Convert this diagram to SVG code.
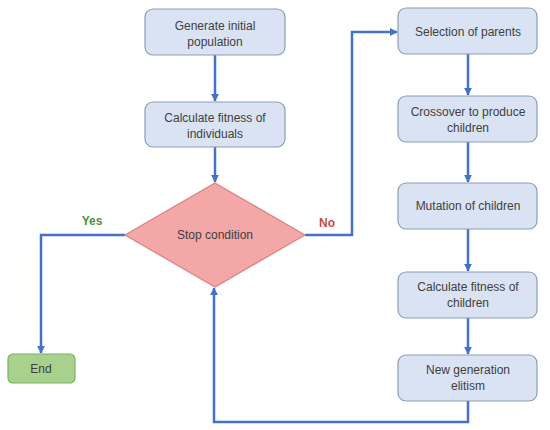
<svg xmlns="http://www.w3.org/2000/svg" width="550" height="430" viewBox="0 0 550 430">
<defs>
<marker id="ah" viewBox="0 0 10 10" refX="9" refY="5" markerWidth="3.2" markerHeight="3.2" orient="auto" markerUnits="strokeWidth">
<path d="M0,0 L10,5 L0,10 z" fill="#4472c4"/>
</marker>
</defs>
<style>
.box{fill:#dae3f3;stroke:#8c9db5;stroke-width:1.2}
.t{font-family:"Liberation Sans",Arial,sans-serif;font-size:12px;fill:#404040;text-anchor:middle}
.lbl{font-weight:bold}
.c{fill:none;stroke:#4472c4;stroke-width:2.5;marker-end:url(#ah)}
</style>
<rect width="550" height="430" fill="#ffffff"/>
<g id="connectors">
<path class="c" d="M215,55 L215,101"/>
<path class="c" d="M215,147 L215,182"/>
<path class="c" d="M125,235 L41,235 L41,353"/>
<path class="c" d="M305,235 L352,235 L352,32 L397,32"/>
<path class="c" d="M468,54 L468,95"/>
<path class="c" d="M468,142 L468,182"/>
<path class="c" d="M468,229 L468,271"/>
<path class="c" d="M468,318 L468,354"/>
<path class="c" d="M468,401 L468,422 L214,422 L214,288"/>
</g>
<g id="gen">
<rect class="box" x="145" y="9" width="140" height="46" rx="8"/>
<text class="t" x="215" y="30">Generate initial</text>
<text class="t" x="215" y="46">population</text>
</g>
<g id="fit1">
<rect class="box" x="145" y="102" width="140" height="45" rx="8"/>
<text class="t" x="215" y="122">Calculate fitness of</text>
<text class="t" x="215" y="138">individuals</text>
</g>
<g id="stop">
<path d="M215,183 L305,235 L215,287 L125,235 z" fill="#f4a7a7" stroke="#d98383" stroke-width="1.2"/>
<text class="t" x="215" y="239">Stop condition</text>
</g>
<g id="yes"><text class="t lbl" x="92" y="225" style="fill:#4e9140">Yes</text></g>
<g id="no"><text class="t lbl" x="327" y="227" style="fill:#c0504d">No</text></g>
<g id="end">
<rect x="8" y="354" width="67" height="29" rx="5" fill="#a9d18e" stroke="#7fae63" stroke-width="1.2"/>
<text class="t" x="41" y="373">End</text>
</g>
<g id="sel">
<rect class="box" x="398" y="8" width="139" height="46" rx="8"/>
<text class="t" x="468" y="36">Selection of parents</text>
</g>
<g id="cross">
<rect class="box" x="398" y="96" width="139" height="46" rx="8"/>
<text class="t" x="468" y="116">Crossover to produce</text>
<text class="t" x="468" y="132">children</text>
</g>
<g id="mut">
<rect class="box" x="398" y="183" width="139" height="46" rx="8"/>
<text class="t" x="468" y="210">Mutation of children</text>
</g>
<g id="fit2">
<rect class="box" x="398" y="272" width="139" height="46" rx="8"/>
<text class="t" x="468" y="291">Calculate fitness of</text>
<text class="t" x="468" y="307">children</text>
</g>
<g id="newgen">
<rect class="box" x="398" y="355" width="139" height="46" rx="8"/>
<text class="t" x="468" y="374">New generation</text>
<text class="t" x="468" y="390">elitism</text>
</g>
</svg>
